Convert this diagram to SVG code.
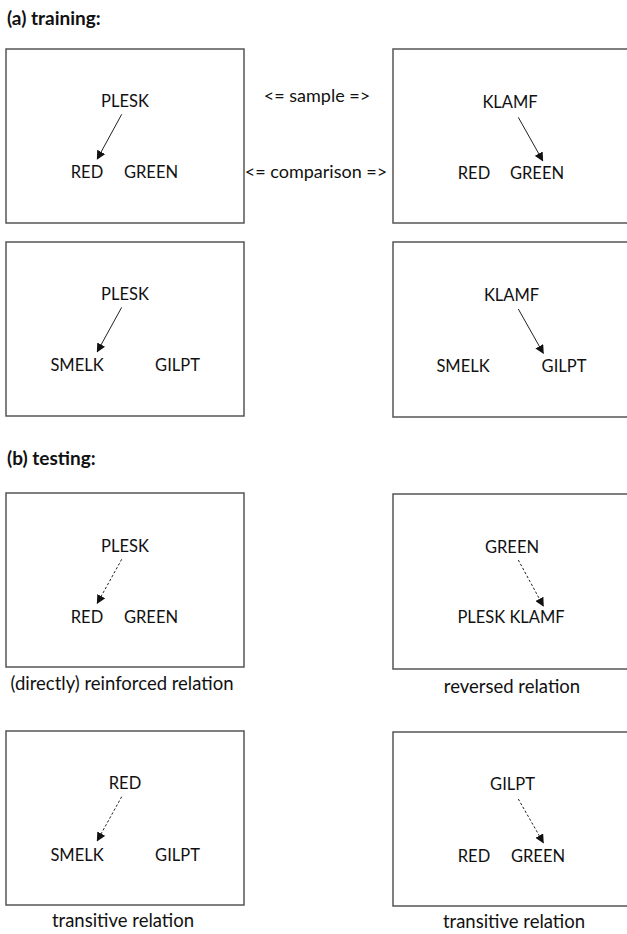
<svg xmlns="http://www.w3.org/2000/svg" width="627" height="934" viewBox="0 0 627 934">
<style>
text{font-family:Lato,"Liberation Sans",sans-serif;fill:#111;}
.lbl{font-size:16.5px;text-anchor:middle;}
.cap{font-size:18.5px;text-anchor:middle;}
.mid{font-size:18px;text-anchor:middle;}
.hd{font-size:19px;font-weight:bold;}
.box{fill:#fff;stroke:#555;stroke-width:1.5;}
.arr{stroke:#222;stroke-width:1;fill:none;marker-end:url(#ah);}
.dash{stroke-dasharray:2.5 2;}
</style>
<defs>
<marker id="ah" viewBox="0 0 10 10" refX="9" refY="5" markerWidth="9" markerHeight="9" markerUnits="userSpaceOnUse" orient="auto">
<path d="M0,0 L10,5 L0,10 z" fill="#111"/>
</marker>
</defs>
<rect width="627" height="934" fill="#fff"/>
<text class="hd" x="7" y="25">(a) training:</text>
<text class="mid" x="317" y="102">&lt;= sample =&gt;</text>
<text class="mid" x="316" y="178">&lt;= comparison =&gt;</text>
<g id="box1">
<rect class="box" x="6" y="49" width="238" height="174"/>
<text class="lbl" x="125" y="107">PLESK</text>
<text class="lbl" x="87" y="178">RED</text>
<text class="lbl" x="151" y="178">GREEN</text>
</g>
<g id="box2">
<rect class="box" x="393" y="49" width="238" height="174"/>
<text class="lbl" x="510" y="108">KLAMF</text>
<text class="lbl" x="474" y="179">RED</text>
<text class="lbl" x="537" y="179">GREEN</text>
</g>
<g id="box3">
<rect class="box" x="6" y="242" width="238" height="174"/>
<text class="lbl" x="125" y="300">PLESK</text>
<text class="lbl" x="77" y="371">SMELK</text>
<text class="lbl" x="177.5" y="371">GILPT</text>
</g>
<g id="box4">
<rect class="box" x="393" y="242" width="238" height="175"/>
<text class="lbl" x="511.5" y="301">KLAMF</text>
<text class="lbl" x="463" y="372">SMELK</text>
<text class="lbl" x="564" y="372">GILPT</text>
</g>
<text class="hd" x="7" y="465">(b) testing:</text>
<g id="box5">
<rect class="box" x="6" y="493" width="238" height="174"/>
<text class="lbl" x="125" y="552">PLESK</text>
<text class="lbl" x="87" y="623">RED</text>
<text class="lbl" x="151" y="623">GREEN</text>
<text class="cap" x="122" y="690">(directly) reinforced relation</text>
</g>
<g id="box6">
<rect class="box" x="393" y="494" width="238" height="175"/>
<text class="lbl" x="512" y="553">GREEN</text>
<text class="lbl" x="511" y="623">PLESK KLAMF</text>
<text class="cap" x="512" y="693">reversed relation</text>
</g>
<g id="box7">
<rect class="box" x="6" y="731" width="238" height="174"/>
<text class="lbl" x="125" y="789">RED</text>
<text class="lbl" x="77" y="861">SMELK</text>
<text class="lbl" x="177.5" y="861">GILPT</text>
<text class="cap" x="123" y="927">transitive relation</text>
</g>
<g id="box8">
<rect class="box" x="393" y="732" width="238" height="174"/>
<text class="lbl" x="512.5" y="790">GILPT</text>
<text class="lbl" x="474" y="862">RED</text>
<text class="lbl" x="538" y="862">GREEN</text>
<text class="cap" x="514" y="928">transitive relation</text>
</g>
<g id="connectors">
<line class="arr" x1="121.7" y1="114.3" x2="97.3" y2="159"/>
<line class="arr" x1="518.3" y1="117.3" x2="542.7" y2="160.7"/>
<line class="arr" x1="121.7" y1="307.3" x2="97.3" y2="351.7"/>
<line class="arr" x1="518.3" y1="309" x2="543.3" y2="353.3"/>
<line class="arr dash" x1="121.7" y1="559.3" x2="97.3" y2="603.3"/>
<line class="arr dash" x1="518.3" y1="560" x2="543.3" y2="606"/>
<line class="arr dash" x1="121.7" y1="796.7" x2="97.3" y2="840.7"/>
<line class="arr dash" x1="518.3" y1="799" x2="543.3" y2="842.7"/>
</g>
</svg>
